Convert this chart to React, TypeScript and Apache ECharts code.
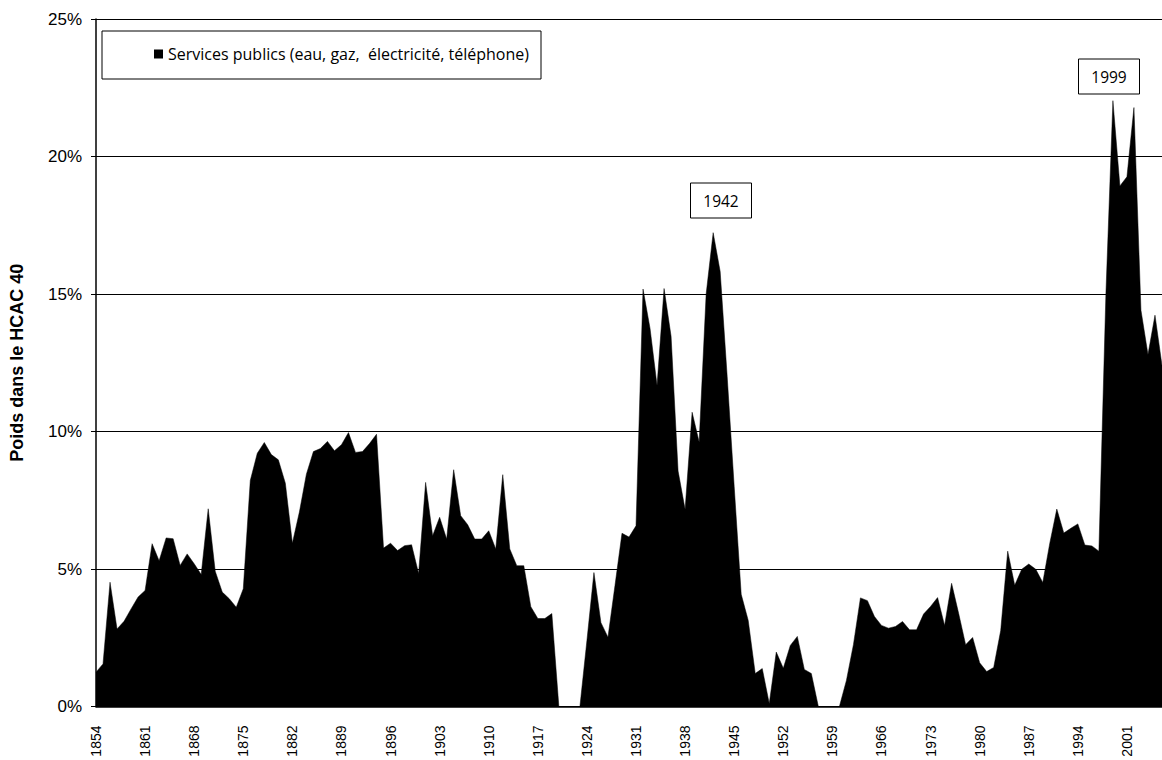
import React, { useEffect, useRef } from "react";
import * as echarts from "echarts";

const firstYear = 1854;

// Weight of public utilities in the HCAC 40 (%), 1854 - 2006
const weights: number[] = [
  1.25, 1.55, 4.52, 2.82, 3.1, 3.55, 3.98, 4.22, 5.92, 5.3, // 1854-1863
  6.13, 6.1, 5.13, 5.55, 5.19, 4.8, 7.19, 4.92, 4.16, 3.92, // 1864-1873
  3.61, 4.28, 8.22, 9.21, 9.6, 9.16, 8.97, 8.12, 5.94, 7.07, // 1874-1883
  8.45, 9.27, 9.38, 9.64, 9.3, 9.52, 9.96, 9.24, 9.27, 9.56, // 1884-1893
  9.9, 5.76, 5.94, 5.67, 5.85, 5.88, 4.84, 8.15, 6.21, 6.88, // 1894-1903
  6.09, 8.61, 6.94, 6.61, 6.09, 6.09, 6.39, 5.73, 8.43, 5.73, // 1904-1913
  5.12, 5.12, 3.63, 3.2, 3.2, 3.38, 0, 0, 0, 0, // 1914-1923
  2.4, 4.87, 3.05, 2.52, 4.4, 6.3, 6.16, 6.57, 15.18, 13.75, // 1924-1933
  11.67, 15.2, 13.46, 8.56, 7.17, 10.7, 9.62, 15.0, 17.23, 15.82, // 1934-1943
  12.0, 8.0, 4.08, 3.13, 1.2, 1.38, 0.11, 1.98, 1.39, 2.22, // 1944-1953
  2.55, 1.35, 1.2, 0, 0, 0, 0, 0.95, 2.25, 3.95, // 1954-1963
  3.85, 3.27, 2.95, 2.85, 2.91, 3.09, 2.79, 2.79, 3.36, 3.64, // 1964-1973
  3.96, 2.95, 4.48, 3.39, 2.25, 2.51, 1.59, 1.27, 1.42, 2.76, // 1974-1983
  5.65, 4.41, 4.99, 5.18, 4.99, 4.51, 5.94, 7.18, 6.31, 6.48, // 1984-1993
  6.64, 5.87, 5.84, 5.65, 15.0, 22.03, 18.93, 19.26, 21.78, 14.41, // 1994-2003
  12.8, 14.23, 12.4, // 2004-2006
];

const years: string[] = weights.map((_, i) => String(firstYear + i));

const yMin = 0;
const yMax = 25;
const yStep = 5;

const seriesName = "Services publics (eau, gaz,  électricité, téléphone)";
const yAxisTitle = "Poids dans le HCAC 40";
const peakLabels = ["1942", "1999"];

export default function App() {
  const ref = useRef<HTMLDivElement>(null);

  useEffect(() => {
    document.body.style.margin = "0";
    document.body.style.overflow = "hidden";
    if (!ref.current) return;
    const chart = echarts.init(ref.current, null, { renderer: "svg" });

    const boxStyle = { fill: "#fff", stroke: "#000", lineWidth: 1 };
    const annFont = { fontFamily: "Open Sans", fontSize: 15.5, fill: "#000" };

    chart.setOption({
      animation: false,
      backgroundColor: "#fff",
      grid: { left: 95, right: -3, top: 19, bottom: 53.5, containLabel: false },
      legend: {
        data: [seriesName],
        left: 154,
        top: 45,
        padding: 0,
        icon: "rect",
        itemWidth: 9,
        itemHeight: 9,
        textStyle: {
          fontFamily: "Open Sans",
          fontSize: 16,
          color: "#000",
          lineHeight: 18,
        },
        z: 10,
      },
      xAxis: {
        type: "category",
        data: years,
        boundaryGap: false,
        axisLine: { show: true, lineStyle: { color: "#000", width: 1.5 } },
        axisTick: { show: false },
        axisLabel: {
          interval: 6,
          rotate: 90,
          margin: 19,
          fontFamily: "Liberation Sans",
          fontSize: 14,
          color: "#000",
        },
        splitLine: { show: false },
      },
      yAxis: {
        type: "value",
        min: yMin,
        max: yMax,
        interval: yStep,
        name: yAxisTitle,
        nameLocation: "middle",
        nameRotate: 90,
        nameGap: 70,
        nameTextStyle: {
          fontFamily: "Liberation Sans",
          fontWeight: "bold",
          fontSize: 18,
          color: "#000",
        },
        axisLine: { show: true, lineStyle: { color: "#000", width: 1.5 } },
        axisTick: { show: true, length: 5, lineStyle: { color: "#000" } },
        axisLabel: {
          formatter: "{value}%",
          margin: 14,
          fontFamily: "Liberation Sans",
          fontSize: 17,
          color: "#000",
        },
        splitLine: { show: true, lineStyle: { color: "#000", width: 1 } },
      },
      series: [
        {
          name: seriesName,
          type: "line",
          data: weights,
          symbol: "none",
          smooth: false,
          itemStyle: { color: "#000" },
          lineStyle: { color: "#000", width: 0.5 },
          areaStyle: { color: "#000", opacity: 1 },
          z: 2,
        },
      ],
      graphic: [
        {
          type: "rect",
          shape: { x: 102, y: 31, width: 439, height: 48 },
          style: boxStyle,
          z: 5,
        },
        {
          type: "group",
          z: 20,
          children: [
            {
              type: "rect",
              shape: { x: 690.5, y: 183, width: 61, height: 35 },
              style: boxStyle,
            },
            {
              type: "text",
              x: 721,
              y: 200.5,
              style: { ...annFont, text: peakLabels[0], align: "center", verticalAlign: "middle" },
            },
            {
              type: "rect",
              shape: { x: 1078.5, y: 59, width: 61, height: 35 },
              style: boxStyle,
            },
            {
              type: "text",
              x: 1109,
              y: 76.5,
              style: { ...annFont, text: peakLabels[1], align: "center", verticalAlign: "middle" },
            },
          ],
        },
      ],
    });

    return () => chart.dispose();
  }, []);

  return (
    <div
      ref={ref}
      style={{ position: "absolute", left: 0, top: 0, width: 1162, height: 760 }}
    />
  );
}
